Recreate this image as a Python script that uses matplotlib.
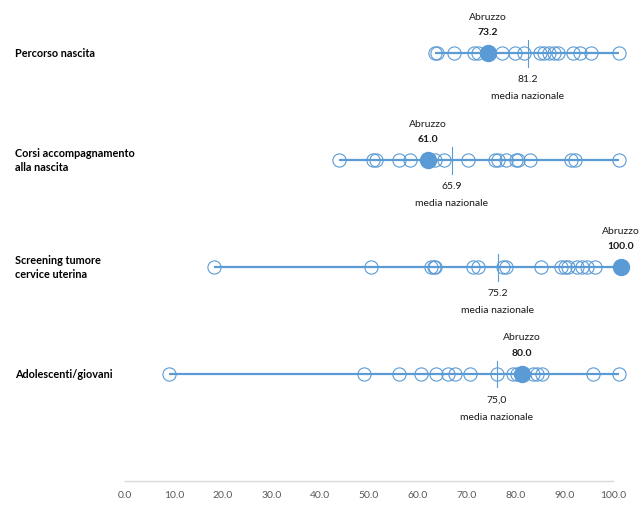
import matplotlib
matplotlib.use("Agg")
import matplotlib.pyplot as plt
from matplotlib.transforms import blended_transform_factory

plt.rcParams['font.family'] = ['Lato', 'DejaVu Sans']

categories = ["Percorso nascita", "Corsi accompagnamento\nalla nascita",
              "Screening tumore\ncervice uterina", "Adolescenti/giovani"]

regions_values = [
    [62.5, 62.9, 66.4, 70.4, 71.2, 76.1, 78.6, 80.4, 83.7, 84.5, 85.5, 86.4,
     87.2, 90.4, 91.7, 94.0, 99.5],
    [43.1, 49.9, 50.6, 55.2, 57.5, 62.5, 64.4, 69.1, 74.6, 75.3, 76.8, 78.8,
     79.3, 81.7, 90.0, 90.7, 99.5],
    [17.9, 49.5, 61.6, 62.2, 62.5, 70.2, 71.2, 76.3, 76.8, 83.8, 88.0, 88.7,
     89.4, 91.1, 92.1, 93.1, 94.8],
    [8.9, 48.2, 55.3, 59.6, 62.8, 65.2, 66.5, 69.6, 74.9, 78.3, 79.0, 82.3,
     83.0, 84.0, 94.4, 99.5],
]
abruzzo_values = [73.2, 61.0, 100.0, 80.0]
abruzzo_labels = ["73.2", "61.0", "100.0", "80.0"]
national_values = [81.2, 65.9, 75.2, 75.0]
national_labels = ["81.2", "65.9", "75.2", "75,0"]
tick_values = [0, 10, 20, 30, 40, 50, 60, 70, 80, 90, 100]
tick_labels = ["0.0", "10.0", "20.0", "30.0", "40.0", "50.0", "60.0",
               "70.0", "80.0", "90.0", "100.0"]

blue = "#5B9BD5"
txt = "#1a1a1a"

fig = plt.figure(figsize=(6.43, 5.11), dpi=100)
ax = fig.add_axes([125 / 643, 30 / 511, 496 / 643, 481 / 511])
ax.set_xlim(0, 100)
ax.set_ylim(0, 4.5)
ax.axis("off")

ypos = [4, 3, 2, 1]
lbl_tr = blended_transform_factory(fig.transFigure, ax.transData)

for i, cat in enumerate(categories):
    y = ypos[i]
    allv = regions_values[i] + [abruzzo_values[i]]
    ax.plot([min(allv), max(allv)], [y, y], color=blue, lw=1.6,
            solid_capstyle="butt", zorder=1, clip_on=False)
    ax.plot(regions_values[i], [y] * len(regions_values[i]), "o", ms=9.5,
            mfc="none", mec=blue, mew=0.8, zorder=2, clip_on=False)
    ax.plot([abruzzo_values[i]], [y], "o", ms=11.5, mfc=blue, mec=blue,
            zorder=3, clip_on=False)
    # national average marker
    ax.plot([national_values[i], national_values[i]], [y - 0.125, y + 0.125],
            color=blue, lw=0.8, zorder=4)
    ax.annotate("Abruzzo", (abruzzo_values[i], y), xytext=(0, 26),
                textcoords="offset points", ha="center", va="center",
                fontsize=7.5, color=txt, annotation_clip=False)
    ax.annotate(abruzzo_labels[i], (abruzzo_values[i], y), xytext=(0, 15),
                textcoords="offset points", ha="center", va="center",
                fontsize=7.5, fontweight="bold", color=txt,
                annotation_clip=False)
    ax.annotate(national_labels[i], (national_values[i], y), xytext=(0, -19),
                textcoords="offset points", ha="center", va="center",
                fontsize=7.5, color=txt)
    ax.annotate("media nazionale", (national_values[i], y), xytext=(0, -31),
                textcoords="offset points", ha="center", va="center",
                fontsize=7.5, color=txt)
    ax.text(15 / 643, y, cat, transform=lbl_tr, ha="left", va="center",
            fontsize=7.8, fontweight="bold", color="#000000", linespacing=1.35)

# category axis (Excel's secondary scale, slightly compressed)
ax2 = fig.add_axes([125 / 643, 30 / 511, 488 / 643, 481 / 511], frameon=False)
ax2.patch.set_visible(False)
ax2.set_xlim(0, 100)
ax2.set_ylim(0, 1)
ax2.set_yticks([])
ax2.set_xticks(tick_values)
ax2.set_xticklabels(tick_labels)
ax2.tick_params(axis="x", length=0, pad=7, labelsize=7.5, labelcolor="#595959")
ax2.axhline(0, color="#D9D9D9", lw=1, clip_on=False)

fig.savefig("out.png", dpi=100)
